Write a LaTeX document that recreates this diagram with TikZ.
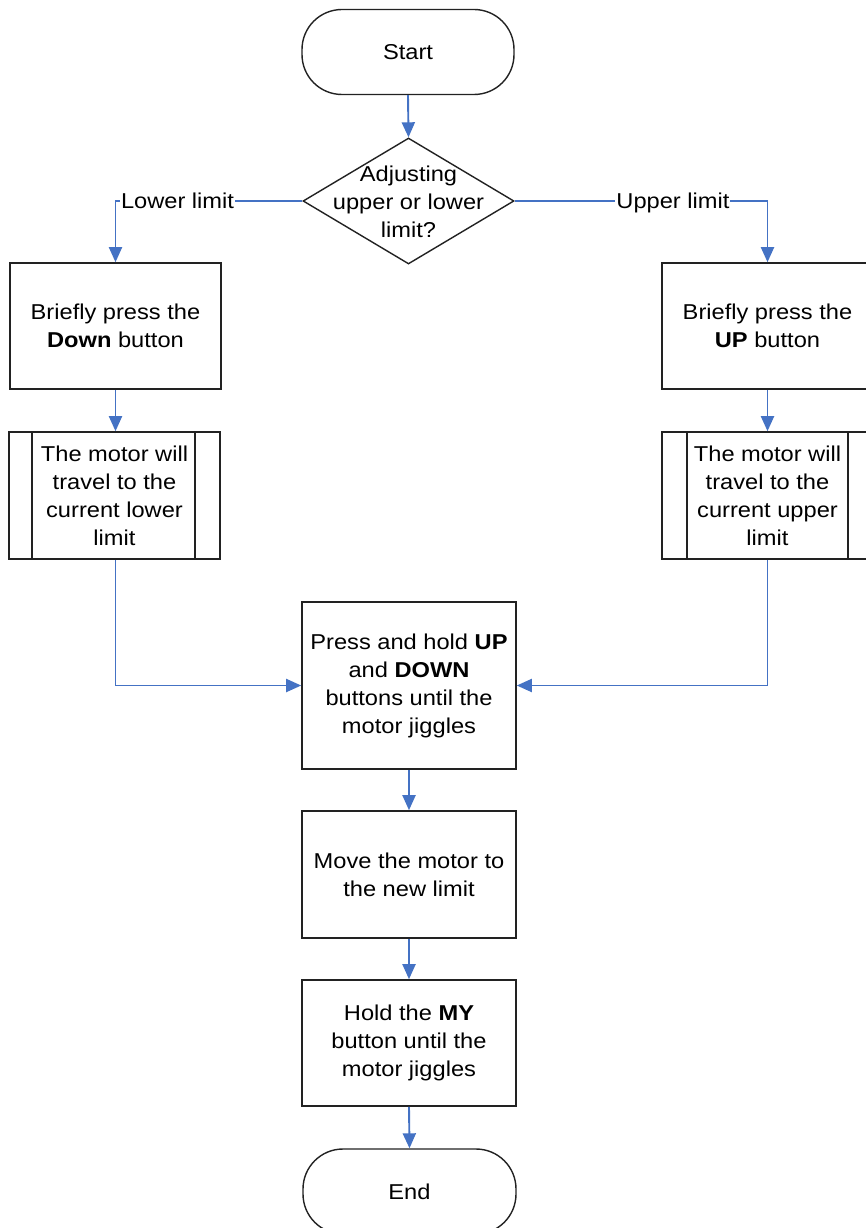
\documentclass[tikz,border=0pt]{standalone}
\usepackage{fontspec}
\setmainfont[FakeStretch=1.1]{Liberation Sans}
\usetikzlibrary{shapes.geometric,arrows.meta}
\definecolor{arrowblue}{HTML}{4472C4}
\definecolor{edge}{HTML}{222222}
\begin{document}
\begin{tikzpicture}[x=1pt,y=-1pt,
  every node/.style={font=\fontsize{21.5}{28}\selectfont},
  box/.style={draw=edge, line width=1.6pt, fill=white, align=center, inner sep=0pt, minimum width=211pt, minimum height=126pt},
  term/.style={draw=edge, line width=1.4pt, rounded corners=40pt, fill=white, inner sep=0pt, minimum width=212pt, minimum height=85pt},
  decshape/.style={draw=edge, line width=1.4pt, diamond, inner sep=0pt, minimum width=211pt, minimum height=126pt},
  conn/.style={draw=arrowblue, line width=1.9pt, -{Triangle[width=13pt,length=15pt]}},
  lbl/.style={fill=white, inner sep=1pt}
]
\useasboundingbox (0,0) rectangle (865,1228);
\fill[white] (0,0) rectangle (865,1228);

\node[term] (start) at (408,52) {Start};
\node[decshape] (dec) at (408.5,201) {};
\node[align=center] (dectext) at (408.5,202) {Adjusting\\upper or lower\\limit?};

\node[box] (b1) at (115.5,326) {Briefly press the\\\textbf{Down} button};
\node[box] (b2) at (767.5,326) {Briefly press the\\\textbf{UP} button};

\node[box, minimum height=127pt] (p1) at (114.5,495.5) {The motor will\\travel to the\\current lower\\limit};
\draw[draw=edge, line width=1.6pt] ([xshift=24pt]p1.north west) -- ([xshift=24pt]p1.south west)
      ([xshift=-26pt]p1.north east) -- ([xshift=-26pt]p1.south east);
\node[box, minimum height=127pt] (p2) at (767.5,495.5) {The motor will\\travel to the\\current upper\\limit};
\draw[draw=edge, line width=1.6pt] ([xshift=26pt]p2.north west) -- ([xshift=26pt]p2.south west)
      ([xshift=-26pt]p2.north east) -- ([xshift=-26pt]p2.south east);

\node[box, minimum width=214pt, minimum height=167pt] (press) at (409,685.5) {Press and hold \textbf{UP}\\and \textbf{DOWN}\\buttons until the\\motor jiggles};
\node[box, minimum width=214pt, minimum height=127pt] (move) at (409,874.5) {Move the motor to\\the new limit};
\node[box, minimum width=214pt, minimum height=126pt] (hold) at (409,1043) {Hold the \textbf{MY}\\button until the\\motor jiggles};
\node[term, minimum width=213pt] (end) at (409.5,1191.5) {End};

\draw[conn] (start.south) -- (dec.north);
\draw[conn] (dec.west) -- node[lbl, pos=0.668] {Lower limit} (b1.north |- dec.west) -- (b1.north);
\draw[conn] (dec.east) -- node[lbl, pos=0.626, yshift=-2pt] {Upper limit} (b2.north |- dec.east) -- (b2.north);
\draw[conn] (b1.south) -- (b1.south |- p1.north);
\draw[conn] (b2.south) -- (p2.north);
\draw[conn] (p1.south -| b1.south) |- (press.west);
\draw[conn] (p2.south) |- (press.east);
\draw[conn] (press.south) -- (move.north);
\draw[conn] (move.south) -- (hold.north);
\draw[conn] (hold.south) -- (end.north);
\end{tikzpicture}
\end{document}
